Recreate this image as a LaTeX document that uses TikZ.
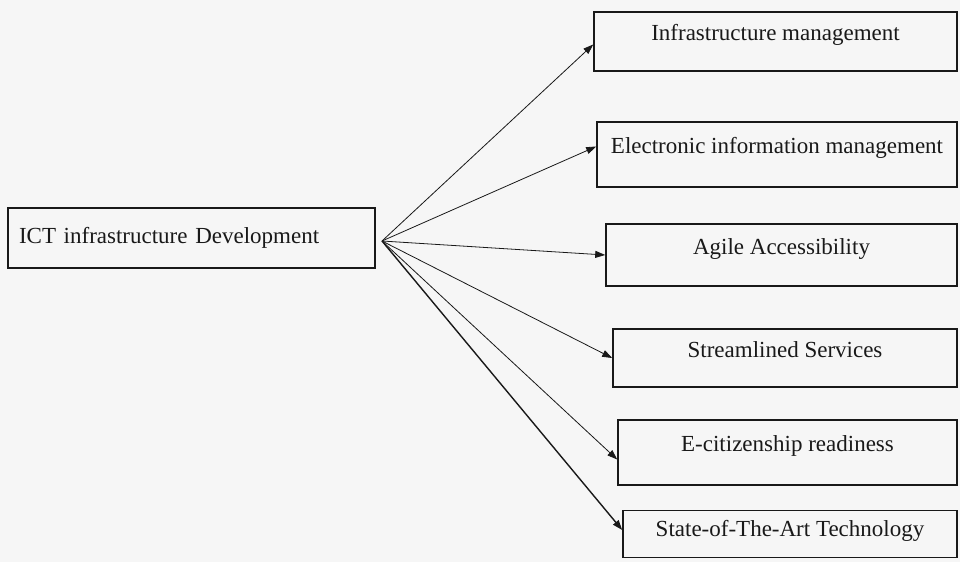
\documentclass[tikz,border=0pt]{standalone}
\usepackage{fontspec}
\setmainfont{Liberation Serif}
\usetikzlibrary{arrows.meta,positioning}
\definecolor{inkgray}{RGB}{25, 25, 25}
\definecolor{paperwhite}{RGB}{246, 246, 246}

\begin{document}
\begin{tikzpicture}[
  x=1pt, y=-1pt,
  srcbox/.style={rectangle, draw=inkgray, line width=1.6pt, minimum width=367pt, minimum height=60pt, align=left, text width=345pt, font=\fontsize{23}{26}\selectfont, text=inkgray},
  outbox/.style={rectangle, draw=inkgray, line width=1.6pt, align=center, text height=15pt, text depth=17pt, font=\fontsize{23}{26}\selectfont, text=inkgray},
  link/.style={-{Triangle[length=10pt,width=7pt]}, line width=0.8pt, color=inkgray}
]
\fill[paperwhite] (0,0) rectangle (960,562);
\useasboundingbox (0,0) rectangle (960,562);

% Source on the left
\node[srcbox] (ict) at (191.5,238) {ICT infrastructure Development};
\coordinate (hub) at (382,241);

% Outcomes on the right
\node[outbox, minimum width=363pt, minimum height=59pt] (infra) at (775.5,41.5) {Infrastructure management};
\node[outbox, minimum width=360pt, minimum height=65pt] (einfo) at (777,154.5) {Electronic information management};
\node[outbox, minimum width=351pt, minimum height=62pt] (agile) at (781.5,255) {Agile Accessibility};
\node[outbox, minimum width=344pt, minimum height=58pt] (stream) at (785,358) {Streamlined Services};
\node[outbox, minimum width=339pt, minimum height=65pt] (ecit) at (787.5,452.5) {E-citizenship readiness};
\node[outbox, minimum width=334pt, minimum height=47pt, text height=15pt, text depth=11pt] (state) at (790,534) {State-of-The-Art Technology};

% Connectors
\draw[link] (hub) -- ([yshift=-3pt]infra.west);
\draw[link] (hub) -- ([yshift=8pt]einfo.west);
\draw[link] (hub) -- (agile.west);
\draw[link] (hub) -- (stream.west);
\draw[link] (hub) -- ([yshift=-7pt]ecit.west);
\draw[link, line width=1.4pt] (hub) -- ([yshift=4pt]state.west);

\end{tikzpicture}
\end{document}
